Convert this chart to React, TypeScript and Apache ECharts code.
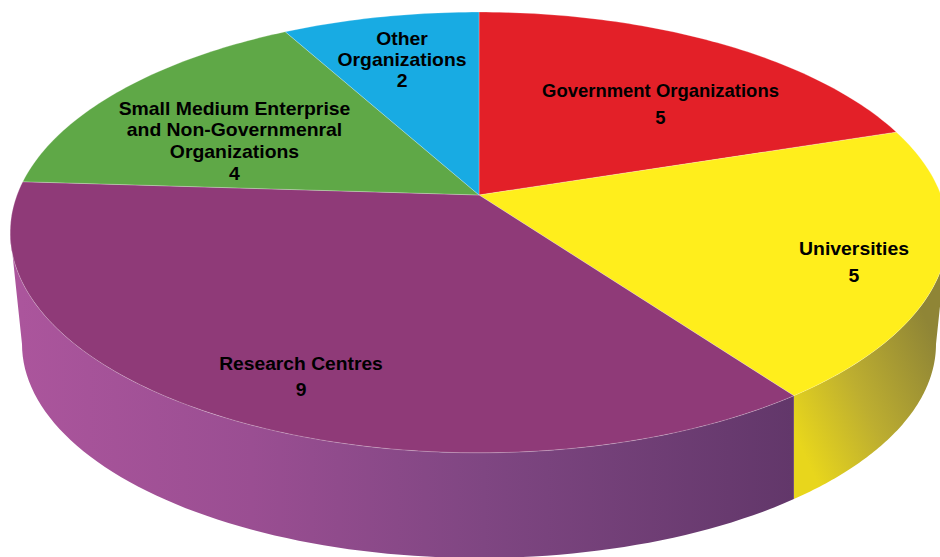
import React, { useEffect, useRef } from "react";
import * as echarts from "echarts";

const categories = [
  "Government Organizations",
  "Universities",
  "Research Centres",
  "Small Medium Enterprise\nand Non-Governmenral\nOrganizations",
  "Other\nOrganizations",
];
const values = [5, 5, 9, 4, 2];
const topColors = ["#E32028", "#FFEE1C", "#8F3A78", "#5FA847", "#18ABE3"];
const labelCentres = [
  [660.5, 104],
  [854, 262],
  [301, 377],
  [234.5, 141],
  [402, 60],
];
const labelLineHeights = [27, 27, 26, 21.6, 21];
const labelStretch = [1.026, 1.078, 1.07, 1.078, 1.075];

const W = 940;
const H = 557;
const total = values.reduce((a, b) => a + b, 0);

// perspective projection of the pie's top disc
const CX = 479;
const CY = 195;
const A = 462;
const B = 214;
const P = 0.17;
const topPoint = (deg: number): number[] => {
  const t = (deg * Math.PI) / 180;
  const u = Math.sin(t);
  const v = Math.cos(t);
  const w = 1 + P * v;
  return [CX + (A * u) / w, CY - (B * v) / w];
};

// bottom rim of the extrusion
const BCX = 479;
const BCY = 344;
const BRX = 457;
const BRY = 214;
const phiForX = (x: number): number => {
  const s = Math.max(-1, Math.min(1, (x - BCX) / BRX));
  return Math.PI - Math.asin(s); // lower half of the rim
};
const bottomPoint = (phi: number): number[] => [BCX + BRX * Math.sin(phi), BCY - BRY * Math.cos(phi)];

const RIGHT_DEG = (Math.acos(-P) * 180) / Math.PI;
const LEFT_DEG = 360 - RIGHT_DEG;

const sideFills: Record<number, any> = {
  1: new echarts.graphic.LinearGradient(793, 430, 945, 360, [
    { offset: 0, color: "#E8D61C" },
    { offset: 0.45, color: "#BDAE30" },
    { offset: 1, color: "#8F8536" },
  ], true),
  2: new echarts.graphic.LinearGradient(20, 0, 793, 0, [
    { offset: 0, color: "#AB559C" },
    { offset: 0.3, color: "#9A4E92" },
    { offset: 0.6, color: "#7F4682" },
    { offset: 1, color: "#62376A" },
  ], true),
};

const arc = (from: number, to: number, fn: (d: number) => number[]) => {
  const n = Math.max(2, Math.ceil(Math.abs(to - from)));
  const pts: number[][] = [];
  for (let i = 0; i <= n; i++) pts.push(fn(from + ((to - from) * i) / n));
  return pts;
};

const renderSlice = (params: any, api: any) => {
  const i = params.dataIndex;
  let before = 0;
  for (let k = 0; k < i; k++) before += values[k];
  const start = (before / total) * 360;
  const end = ((before + api.value(0)) / total) * 360;
  const children: any[] = [];

  const sStart = Math.max(start, RIGHT_DEG);
  const sEnd = Math.min(end, LEFT_DEG);
  if (sEnd > sStart) {
    const rim = arc(sStart, sEnd, topPoint);
    const p0 = phiForX(rim[0][0]);
    const phiEnd = phiForX(rim[rim.length - 1][0]);
    const n = 80;
    const bottom: number[][] = [];
    for (let k = 0; k <= n; k++) bottom.push(bottomPoint(phiEnd + ((p0 - phiEnd) * k) / n));
    children.push({
      type: "polygon",
      shape: { points: rim.concat(bottom) },
      style: { fill: sideFills[i] || topColors[i], stroke: null },
      silent: true,
    });
  }

  children.push({
    type: "polygon",
    shape: { points: [[CX, CY] as number[]].concat(arc(start, end, topPoint)) },
    style: { fill: topColors[i], stroke: "rgba(255,255,255,0.4)", lineWidth: 0.6 },
    silent: true,
  });
  children.push({
    type: "text",
    x: labelCentres[i][0],
    y: labelCentres[i][1],
    scaleX: labelStretch[i],
    silent: true,
    z2: 10,
    style: {
      text: categories[i] + "\n" + api.value(0),
      fill: "#000",
      font: 'bold 18px "Liberation Sans", Arial, sans-serif',
      lineHeight: labelLineHeights[i],
      align: "center",
      verticalAlign: "middle",
    },
  });
  return { type: "group", children };
};

export default function App() {
  const ref = useRef<HTMLDivElement>(null);
  useEffect(() => {
    document.body.style.margin = "0";
    const chart = echarts.init(ref.current!, undefined, { renderer: "svg" });
    chart.setOption({
      animation: false,
      backgroundColor: "#fff",
      series: [
        {
          type: "custom",
          coordinateSystem: "none",
          silent: true,
          clip: false,
          data: values.map((v) => [v]),
          renderItem: renderSlice,
        },
      ],
    });
    return () => chart.dispose();
  }, []);
  return <div ref={ref} style={{ width: W, height: H, overflow: "hidden" }} />;
}
